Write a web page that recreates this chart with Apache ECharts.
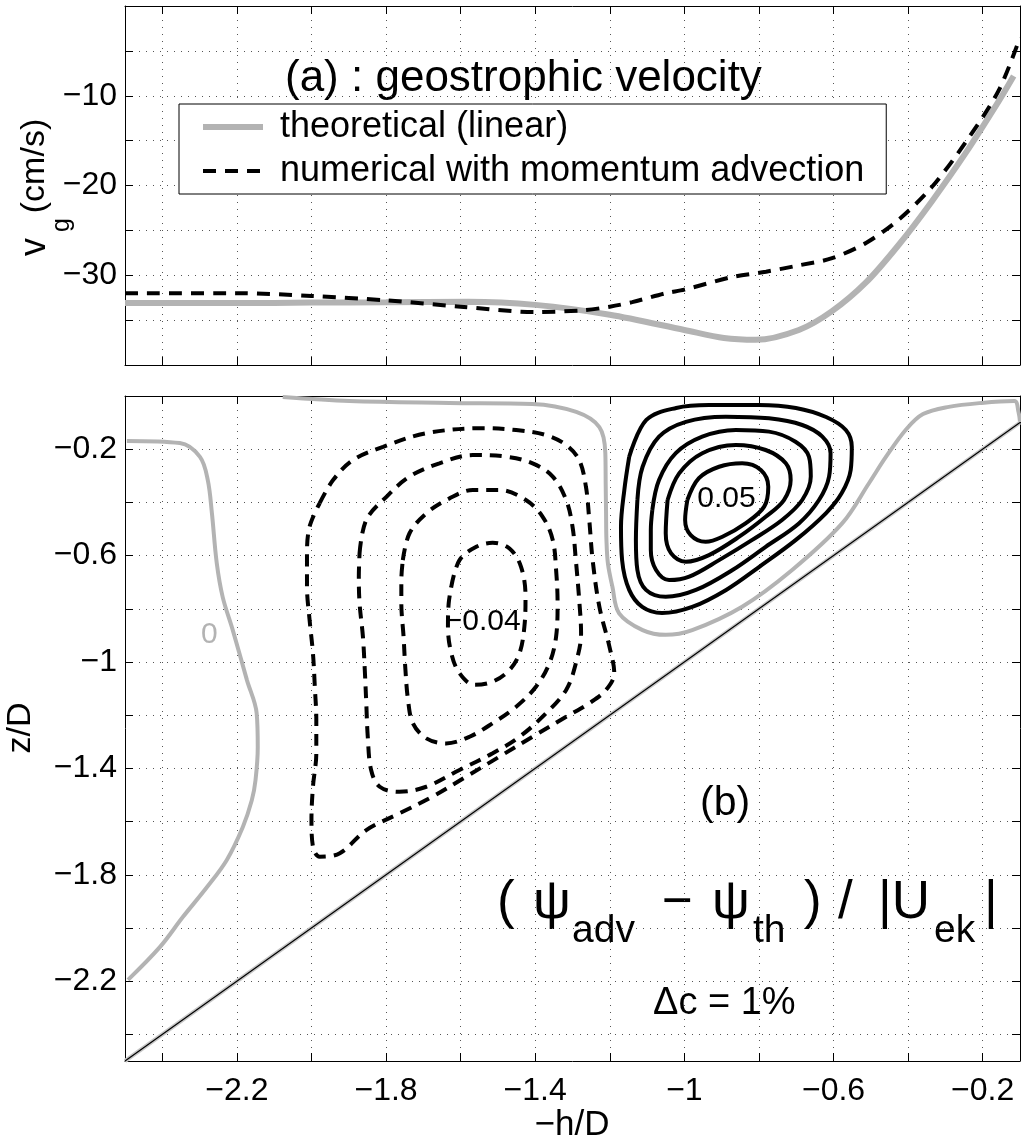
<!DOCTYPE html>
<html>
<head>
<meta charset="utf-8">
<title>geostrophic velocity and streamfunction difference</title>
<script src="https://cdn.jsdelivr.net/npm/echarts@6/dist/echarts.min.js"></script>
<style>
  html, body { margin: 0; padding: 0; background: #fff; }
  #chart { width: 1021px; height: 1144px; }
</style>
</head>
<body>
<div id="chart"></div>
<script>
// ticks and labels
const hTicks = [-2.4, -2.2, -2, -1.8, -1.6, -1.4, -1.2, -1, -0.8, -0.6, -0.4, -0.2];
const hLabels = [-2.2, -1.8, -1.4, -1, -0.6, -0.2];
const vgLabels = [-30, -20, -10];
const zTicks = [-2.4, -2.2, -2, -1.8, -1.6, -1.4, -1.2, -1, -0.8, -0.6, -0.4, -0.2];
const zLabels = [-2.2, -1.8, -1.4, -1, -0.6, -0.2];

// (a) geostrophic velocity, cm/s
const hTheory = [-2.5, -2.2, -2.0, -1.8, -1.58, -1.4, -1.2, -1.0, -0.894, -0.808, -0.693, -0.604, -0.513, -0.425, -0.337, -0.246, -0.157, -0.117];
const vgTheory = [-33.1, -33.1, -33.05, -33.0, -32.95, -33.3, -34.4, -36.1, -37.0, -37.2, -36.1, -34.0, -30.8, -26.6, -21.8, -16.4, -10.6, -7.8];
const hNumeric = [-2.5, -2.2, -2.0, -1.8, -1.6, -1.4, -1.27, -1.2, -1.14, -1.05, -1.0, -0.872, -0.781, -0.693, -0.604, -0.513, -0.425, -0.337, -0.246, -0.157, -0.1];
const vgNumeric = [-32.0, -32.0, -32.3, -32.8, -33.5, -34.1, -33.9, -33.5, -33.0, -32.0, -31.6, -30.2, -29.6, -28.9, -28.1, -26.4, -23.8, -20.2, -15.2, -9.4, -3.5];

// (b) contours of (psi_adv - psi_th)/|Uek|, [h/D, z/D]
const zero1 = [[-2.495,-0.169],[-2.353,-0.177],[-2.299,-0.229],[-2.278,-0.316],[-2.267,-0.440],[-2.254,-0.628],[-2.238,-0.756],[-2.211,-0.880],[-2.173,-1.068],[-2.147,-1.192],[-2.144,-1.320],[-2.150,-1.444],[-2.160,-1.520],[-2.184,-1.620],[-2.227,-1.744],[-2.280,-1.846],[-2.345,-1.959],[-2.406,-2.071],[-2.492,-2.195]];
const zero2 = [[-2.077,-0.004],[-1.898,-0.019],[-1.630,-0.026],[-1.408,-0.030],[-1.290,-0.060],[-1.228,-0.117],[-1.212,-0.214],[-1.211,-0.330],[-1.210,-0.440],[-1.209,-0.540],[-1.205,-0.630],[-1.193,-0.717],[-1.175,-0.817],[-1.112,-0.880],[-1.050,-0.898],[-0.979,-0.880],[-0.845,-0.792],[-0.711,-0.654],[-0.577,-0.479],[-0.505,-0.328],[-0.460,-0.230],[-0.405,-0.125],[-0.360,-0.068],[-0.291,-0.041],[-0.203,-0.026],[-0.115,-0.019],[-0.104,-0.060],[-0.100,-0.098]];
const pos1 = [[-1.148,-0.229],[-1.102,-0.090],[-1.022,-0.045],[-0.934,-0.034],[-0.800,-0.034],[-0.701,-0.045],[-0.620,-0.079],[-0.567,-0.128],[-0.551,-0.192],[-0.554,-0.278],[-0.578,-0.365],[-0.620,-0.440],[-0.701,-0.541],[-0.800,-0.643],[-0.888,-0.729],[-0.979,-0.793],[-1.060,-0.816],[-1.113,-0.793],[-1.148,-0.729],[-1.167,-0.617],[-1.170,-0.492],[-1.161,-0.353],[-1.148,-0.229]];
const pos2 = [[-1.126,-0.391],[-1.112,-0.266],[-1.068,-0.153],[-0.996,-0.097],[-0.889,-0.078],[-0.773,-0.084],[-0.684,-0.109],[-0.630,-0.153],[-0.608,-0.215],[-0.612,-0.303],[-0.639,-0.391],[-0.693,-0.479],[-0.782,-0.567],[-0.871,-0.654],[-0.969,-0.729],[-1.050,-0.755],[-1.103,-0.729],[-1.126,-0.654],[-1.130,-0.541],[-1.126,-0.391]];
const pos3 = [[-1.086,-0.429],[-1.068,-0.316],[-1.023,-0.215],[-0.952,-0.153],[-0.862,-0.128],[-0.773,-0.134],[-0.702,-0.172],[-0.666,-0.228],[-0.661,-0.303],[-0.684,-0.391],[-0.738,-0.466],[-0.818,-0.541],[-0.907,-0.617],[-0.987,-0.679],[-1.041,-0.692],[-1.076,-0.654],[-1.090,-0.579],[-1.090,-0.504],[-1.086,-0.429]];
const pos4 = [[-1.045,-0.391],[-1.014,-0.291],[-0.952,-0.215],[-0.862,-0.184],[-0.782,-0.203],[-0.728,-0.253],[-0.715,-0.316],[-0.733,-0.391],[-0.782,-0.454],[-0.853,-0.529],[-0.934,-0.598],[-0.996,-0.623],[-1.036,-0.591],[-1.050,-0.516],[-1.045,-0.391]];
const pos5 = [[-0.992,-0.391],[-0.961,-0.309],[-0.907,-0.266],[-0.845,-0.253],[-0.795,-0.278],[-0.775,-0.341],[-0.786,-0.416],[-0.836,-0.479],[-0.898,-0.529],[-0.943,-0.548],[-0.983,-0.523],[-0.998,-0.466],[-0.992,-0.391]];
const neg1 = [[-1.978,-0.403],[-1.942,-0.316],[-1.889,-0.241],[-1.808,-0.191],[-1.692,-0.140],[-1.541,-0.121],[-1.451,-0.128],[-1.371,-0.147],[-1.317,-0.184],[-1.282,-0.241],[-1.264,-0.341],[-1.255,-0.466],[-1.246,-0.617],[-1.228,-0.792],[-1.201,-0.942],[-1.188,-1.042],[-1.210,-1.105],[-1.255,-1.155],[-1.317,-1.206],[-1.407,-1.281],[-1.496,-1.356],[-1.585,-1.431],[-1.675,-1.506],[-1.764,-1.569],[-1.853,-1.632],[-1.924,-1.719],[-1.978,-1.732],[-1.996,-1.694],[-2.000,-1.594],[-1.996,-1.469],[-1.987,-1.343],[-1.987,-1.218],[-1.991,-1.093],[-1.996,-0.967],[-2.005,-0.842],[-2.012,-0.717],[-2.012,-0.591],[-2.005,-0.491],[-1.978,-0.403]];
const neg2 = [[-1.871,-0.591],[-1.853,-0.466],[-1.799,-0.379],[-1.737,-0.303],[-1.657,-0.253],[-1.567,-0.222],[-1.478,-0.228],[-1.407,-0.253],[-1.353,-0.303],[-1.317,-0.391],[-1.300,-0.491],[-1.291,-0.617],[-1.282,-0.767],[-1.277,-0.892],[-1.291,-1.005],[-1.317,-1.105],[-1.371,-1.193],[-1.442,-1.281],[-1.514,-1.343],[-1.603,-1.406],[-1.692,-1.469],[-1.764,-1.488],[-1.817,-1.469],[-1.840,-1.406],[-1.849,-1.281],[-1.853,-1.155],[-1.857,-1.030],[-1.862,-0.905],[-1.871,-0.779],[-1.873,-0.679],[-1.871,-0.591]];
const neg3 = [[-1.755,-0.617],[-1.737,-0.516],[-1.692,-0.441],[-1.630,-0.385],[-1.567,-0.353],[-1.496,-0.353],[-1.425,-0.391],[-1.380,-0.454],[-1.353,-0.541],[-1.344,-0.654],[-1.340,-0.779],[-1.344,-0.905],[-1.362,-1.005],[-1.398,-1.093],[-1.451,-1.168],[-1.514,-1.230],[-1.576,-1.281],[-1.639,-1.306],[-1.692,-1.287],[-1.728,-1.230],[-1.741,-1.143],[-1.748,-1.030],[-1.753,-0.905],[-1.759,-0.779],[-1.759,-0.692],[-1.755,-0.617]];
const neg4 = [[-1.625,-0.717],[-1.603,-0.617],[-1.558,-0.567],[-1.514,-0.552],[-1.469,-0.573],[-1.438,-0.642],[-1.426,-0.755],[-1.429,-0.867],[-1.442,-0.967],[-1.469,-1.030],[-1.514,-1.074],[-1.563,-1.086],[-1.603,-1.042],[-1.625,-0.967],[-1.634,-0.867],[-1.632,-0.779],[-1.625,-0.717]];
const bottom = [[-2.5, -2.5], [-0.1, -0.1]];
const labelPos = [[-0.887, -0.387], [-1.541, -0.848], [-2.274, -0.898]];
const labelText = ["0.05", "\u22120.04", "0"];
const labelColor = ["#000", "#000", "#b3b3b3"];

const FONT = "Liberation Sans";
const GRAY = "#b3b3b3";
const minus = (v) => String(+(+v).toFixed(2)).replace("-", "\u2212");

const xAxisFor = (gridIndex, position, labels) => ({
  type: "value",
  gridIndex: gridIndex,
  position: position,
  min: -2.5,
  max: -0.1,
  axisLine: { show: true, onZero: false, lineStyle: { color: "#000", width: 1 } },
  axisTick: { show: true, inside: true, length: 8, customValues: hTicks, lineStyle: { color: "#000" } },
  axisLabel: {
    show: !!labels,
    customValues: labels || hLabels,
    formatter: minus,
    margin: 14,
    fontSize: 32,
    fontFamily: FONT,
    color: "#000",
  },
  splitLine: { show: position === "bottom", lineStyle: { color: "#555", width: 1, type: [1, 6] } },
});

const yTop = (position) => ({
  type: "value",
  gridIndex: 0,
  position: position,
  min: -40,
  max: 0,
  interval: 5,
  axisLine: { show: true, onZero: false, lineStyle: { color: "#000", width: 1 } },
  axisTick: { show: true, inside: true, length: 8, lineStyle: { color: "#000" } },
  axisLabel: {
    show: position === "left",
    customValues: vgLabels,
    formatter: minus,
    margin: 8,
    fontSize: 32,
    fontFamily: FONT,
    color: "#000",
  },
  splitLine: { show: position === "left", lineStyle: { color: "#555", width: 1, type: [1, 6] } },
});

const yBottom = (position) => ({
  type: "value",
  gridIndex: 1,
  position: position,
  min: -2.5,
  max: 0,
  axisLine: { show: true, onZero: false, lineStyle: { color: "#000", width: 1 } },
  axisTick: { show: true, inside: true, length: 8, customValues: zTicks, lineStyle: { color: "#000" } },
  axisLabel: {
    show: position === "left",
    customValues: zLabels,
    formatter: minus,
    margin: 8,
    fontSize: 32,
    fontFamily: FONT,
    color: "#000",
  },
  splitLine: { show: position === "left", lineStyle: { color: "#555", width: 1, type: [1, 6] } },
});

const contour = (data, color, width, type) => ({
  type: "line",
  xAxisIndex: 2,
  yAxisIndex: 2,
  data: data,
  smooth: 0.35,
  symbol: "none",
  silent: true,
  lineStyle: { color: color, width: width, type: type },
});

const text = (x, y, str, size, extra) => ({
  type: "text",
  x: x,
  y: y,
  silent: true,
  ...(extra || {}),
  style: {
    text: str,
    fontSize: size,
    fontFamily: FONT,
    fill: (extra && extra.fill) || "#000",
    align: (extra && extra.align) || "left",
    verticalAlign: "middle",
  },
});

const rot = { rotation: Math.PI / 2, align: "center" };
const mid = { align: "center" };

const texts = [
  text(285, 79, "(a) : geostrophic velocity", 44),
  text(35, 247, "v", 36, rot),
  text(62, 225, "g", 25, rot),
  text(35, 166, "(cm/s)", 34, rot),
  text(21, 728, "z/D", 34, rot),
  text(572, 1125, "\u2212h/D", 35, mid),
  text(700, 804, "(b)", 41),
  text(497, 903, "(", 53),
  text(533, 903, "\u03c8", 53),
  text(572, 931, "adv", 39),
  text(662, 903, "\u2212", 53),
  text(712, 903, "\u03c8", 53),
  text(753, 931, "th", 39),
  text(804, 903, ")", 53),
  text(838, 903, "/", 53),
  text(878, 903, "|U", 53),
  text(934, 931, "ek", 39),
  text(984, 903, "|", 53),
  text(653, 1004, "\u0394c = 1%", 38),
];

const option = {
  animation: false,
  backgroundColor: "#fff",
  grid: [
    { left: 125, top: 6, width: 895, height: 359, outerBoundsMode: "none" },
    { left: 125, top: 396, width: 895, height: 665, outerBoundsMode: "none" },
  ],
  xAxis: [xAxisFor(0, "bottom"), xAxisFor(0, "top"), xAxisFor(1, "bottom", hLabels), xAxisFor(1, "top")],
  yAxis: [yTop("left"), yTop("right"), yBottom("left"), yBottom("right")],
  legend: {
    data: ["theoretical (linear)", "numerical with momentum advection"],
    orient: "vertical",
    left: 179,
    top: 104,
    itemWidth: 60,
    itemHeight: 14,
    itemGap: 4,
    padding: [3, 22, 3, 21],
    borderColor: "#000",
    borderWidth: 1,
    borderRadius: 0,
    backgroundColor: "#fff",
    selectedMode: false,
    itemStyle: { opacity: 0 },
    lineStyle: { width: "inherit" },
    textStyle: { fontSize: 36, fontFamily: FONT, color: "#000", lineHeight: 40, padding: [0, 0, 0, 12] },
  },
  graphic: texts,
  series: [
    {
      name: "theoretical (linear)",
      type: "line",
      xAxisIndex: 0,
      yAxisIndex: 0,
      data: hTheory.map((h, i) => [h, vgTheory[i]]),
      smooth: 0.3,
      symbol: "none",
      lineStyle: { color: GRAY, width: 6 },
      itemStyle: { color: GRAY },
    },
    {
      name: "numerical with momentum advection",
      type: "line",
      xAxisIndex: 0,
      yAxisIndex: 0,
      data: hNumeric.map((h, i) => [h, vgNumeric[i]]),
      smooth: 0.3,
      symbol: "none",
      lineStyle: { color: "#000", width: 4, type: [13, 9] },
      itemStyle: { color: "#000" },
    },
    contour(zero1, GRAY, 4, "solid"),
    contour(zero2, GRAY, 4, "solid"),
    contour(bottom, "#c8c8c8", 4, "solid"),
    contour(bottom, "#000", 1.2, "solid"),
    contour(pos1, "#000", 4, "solid"),
    contour(pos2, "#000", 4, "solid"),
    contour(pos3, "#000", 4, "solid"),
    contour(pos4, "#000", 4, "solid"),
    contour(pos5, "#000", 4, "solid"),
    contour(neg1, "#000", 4, [12, 8]),
    contour(neg2, "#000", 4, [12, 8]),
    contour(neg3, "#000", 4, [12, 8]),
    contour(neg4, "#000", 4, [12, 8]),
  ],
};

const chart = echarts.init(document.getElementById("chart"));
chart.setOption(option);

// contour labels placed through the lower panel's scales
const labels = labelPos.map((p, i) => {
  const px = chart.convertToPixel({ xAxisIndex: 2, yAxisIndex: 2 }, p);
  return text(px[0], px[1], labelText[i], 30, { align: "center", fill: labelColor[i] });
});
chart.setOption({ graphic: texts.concat(labels) });
</script>
</body>
</html>
